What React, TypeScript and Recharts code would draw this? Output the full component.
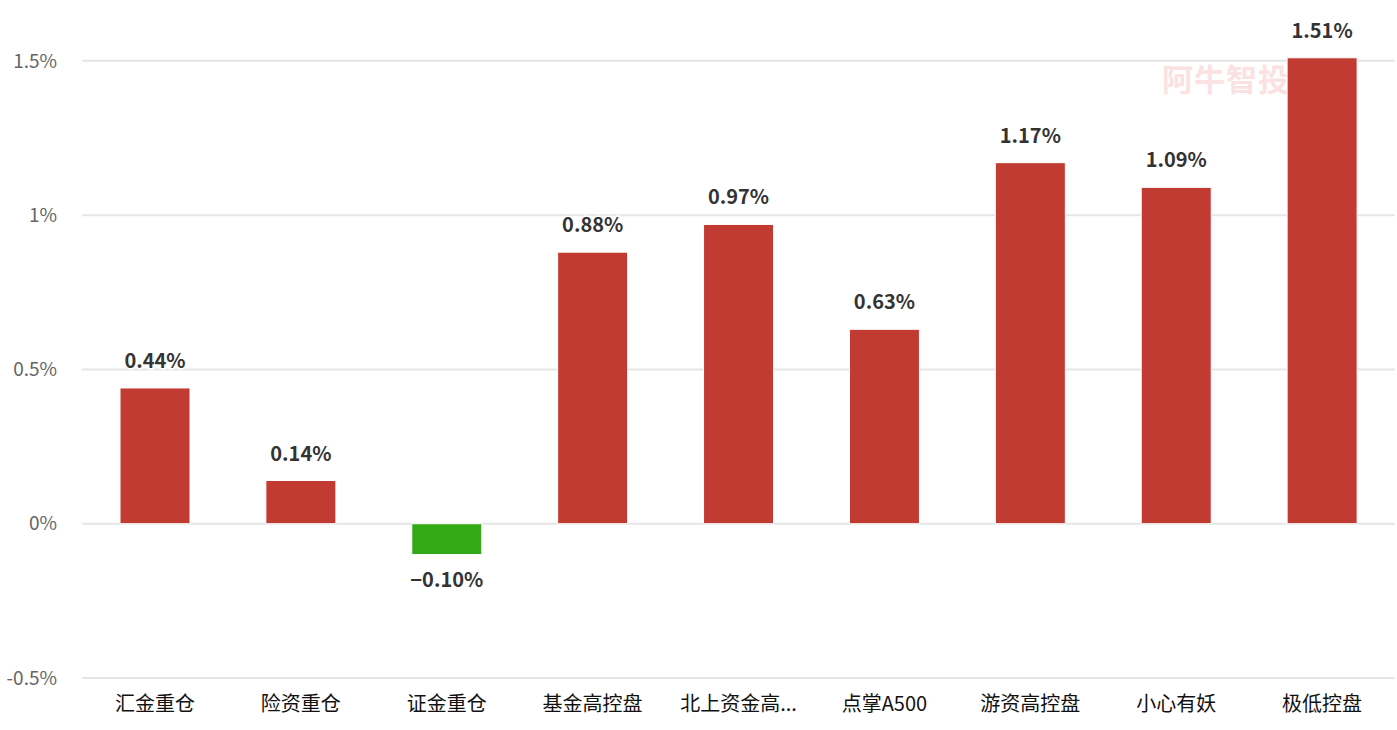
import React from "react";
import {
  BarChart,
  Bar,
  XAxis,
  YAxis,
  Cell,
  LabelList,
  ReferenceLine,
} from "recharts";

const categories = [
  "汇金重仓",
  "险资重仓",
  "证金重仓",
  "基金高控盘",
  "北上资金高控盘",
  "点掌A500",
  "游资高控盘",
  "小心有妖",
  "极低控盘",
];
const changes = [0.44, 0.14, -0.1, 0.88, 0.97, 0.63, 1.17, 1.09, 1.51];
const yTicks = [-0.5, 0, 0.5, 1, 1.5];

const UP = "#C13B33";
const DOWN = "#33A916";
const FONT = "'Noto Sans CJK SC', 'Noto Sans', sans-serif";

const chartData = categories.map((name, i) => ({ name, value: changes[i] }));

// long names get cut like the original
const shortName = (s: string) => (s.length > 6 ? s.slice(0, 5) + "..." : s);

const fmtPct = (v: number) => `${v}%`;

function ValueLabel(props: any) {
  const { x, y, width, height, value } = props;
  const top = Math.min(y, y + height);
  const bottom = Math.max(y, y + height);
  const cx = x + width / 2;
  const neg = value < 0;
  const text = (neg ? "−" : "") + Math.abs(value).toFixed(2) + "%";
  return (
    <text
      x={cx}
      y={neg ? bottom + 32 : top - 20}
      textAnchor="middle"
      fontSize={20}
      fontWeight={600}
      fill="#333"
      stroke="#fff"
      strokeWidth={3}
      paintOrder="stroke"
      fontFamily={FONT}
    >
      {text}
    </text>
  );
}

export default function App() {
  return (
    <div
      style={{
        position: "absolute",
        left: 0,
        top: 0,
        width: 1397,
        height: 730,
        background: "#fff",
        fontFamily: FONT,
      }}
    >
      {/* faint watermark behind the chart */}
      <div
        style={{
          position: "absolute",
          left: 1162,
          top: 55,
          fontSize: 31,
          fontWeight: 700,
          color: "#fbe2e2",
          letterSpacing: 1,
        }}
      >
        阿牛智投
      </div>
      <div style={{ position: "absolute", left: 0, top: 0 }}>
        <BarChart
          width={1397}
          height={730}
          data={chartData}
          margin={{ top: 30, right: 2, bottom: 12, left: 0 }}
          barSize={70}
        >
          {/* horizontal grid only at the real ticks (domain is padded on top) */}
          {yTicks.map((t) => (
            <ReferenceLine
              key={t}
              y={t}
              stroke="#e6e6e6"
              strokeWidth={2}
              zIndex={-100}
            />
          ))}
          <XAxis
            dataKey="name"
            axisLine={false}
            tickLine={false}
            tickMargin={13}
            height={40}
            interval={0}
            tickFormatter={shortName}
            tick={{ fontSize: 20, fill: "#111", fontFamily: FONT }}
          />
          <YAxis
            width={82}
            domain={[-0.5, 1.6]}
            ticks={yTicks}
            axisLine={false}
            tickLine={false}
            tickMargin={19}
            tickFormatter={fmtPct}
            tick={{ fontSize: 19, fill: "#666", fontFamily: FONT }}
          />
          <Bar dataKey="value" isAnimationActive={false} stroke="#fff" strokeWidth={1}>
            {chartData.map((d, i) => (
              <Cell key={i} fill={d.value >= 0 ? UP : DOWN} />
            ))}
            <LabelList dataKey="value" content={ValueLabel} />
          </Bar>
        </BarChart>
      </div>
    </div>
  );
}
